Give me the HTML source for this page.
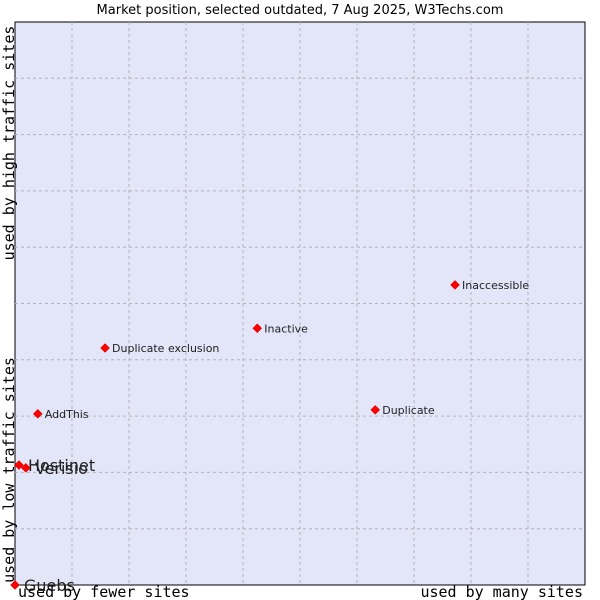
<!DOCTYPE html>
<html><head><meta charset="utf-8"><style>
body{margin:0;background:#fff;width:600px;height:600px;overflow:hidden}
svg{display:block}
</style></head><body>
<svg id="chart" width="600" height="600" xmlns="http://www.w3.org/2000/svg">
<text x="300" y="14" text-anchor="middle" font-family="DejaVu Sans, sans-serif" font-size="13" fill="#000">Market position, selected outdated, 7 Aug 2025, W3Techs.com</text>
<rect x="15" y="22" width="570" height="563" fill="#e3e5f8" stroke="#000" stroke-width="1"/>
<g id="grid"></g>
<g id="points"></g>
<text transform="translate(14,143) rotate(-90)" text-anchor="middle" font-family="DejaVu Sans Mono, monospace" font-size="15">used by high traffic sites</text>
<text transform="translate(14,470) rotate(-90)" text-anchor="middle" font-family="DejaVu Sans Mono, monospace" font-size="15">used by low traffic sites</text>
<text x="18" y="597" font-family="DejaVu Sans Mono, monospace" font-size="15">used by fewer sites</text>
<text x="583" y="597" text-anchor="end" font-family="DejaVu Sans Mono, monospace" font-size="15">used by many sites</text>
</svg>
<script>
const names=["Guebs","Hostinet","Verisio","AddThis","Duplicate exclusion","Inactive","Duplicate","Inaccessible"];
const xVals=[0,0.7,1.9,4.0,15.8,42.5,63.2,77.2];
const yVals=[0,21.3,20.8,30.4,42.1,45.6,31.1,53.3];
const bigLabel=[true,true,true,false,false,false,false,false];
const NS="http://www.w3.org/2000/svg";
const L=15,R=585,T=22,B=585;
function sx(v){return L+v/100*(R-L);}
function sy(v){return B-v/100*(B-T);}
const grid=document.getElementById('grid');
for(let i=1;i<10;i++){
  const v=document.createElementNS(NS,'line');
  
  
  v.setAttribute('x1',sx(i*10));v.setAttribute('x2',sx(i*10));v.setAttribute('y1',T);v.setAttribute('y2',B);
  v.setAttribute('stroke','#b4b4b4');v.setAttribute('stroke-dasharray','3,3');
  grid.appendChild(v);
  const h=document.createElementNS(NS,'line');
  
  
  h.setAttribute('y1',sy(i*10));h.setAttribute('y2',sy(i*10));h.setAttribute('x1',L);h.setAttribute('x2',R);
  h.setAttribute('stroke','#b4b4b4');h.setAttribute('stroke-dasharray','3,3');
  grid.appendChild(h);
}
const pts=document.getElementById('points');
for(let i=0;i<names.length;i++){
  const x=sx(xVals[i]),y=sy(yVals[i]);
  const d=document.createElementNS(NS,'path');
  
  
  d.setAttribute('d',`M${x} ${y-4.5}L${x+4.5} ${y}L${x} ${y+4.5}L${x-4.5} ${y}Z`);
  d.setAttribute('fill','#ff0000');d.setAttribute('stroke','#cc0000');d.setAttribute('stroke-width','0.5');
  pts.appendChild(d);
  const t=document.createElementNS(NS,'text');
  
  
  t.setAttribute('x',x+(bigLabel[i]?9:7));
  t.setAttribute('y',y+(bigLabel[i]?6:4));
  t.setAttribute('font-family','DejaVu Sans, sans-serif');
  t.setAttribute('font-size',bigLabel[i]?'16':'11');
  t.setAttribute('fill','#222');
  t.textContent=names[i];
  pts.appendChild(t);
}
</script>
</body></html>
